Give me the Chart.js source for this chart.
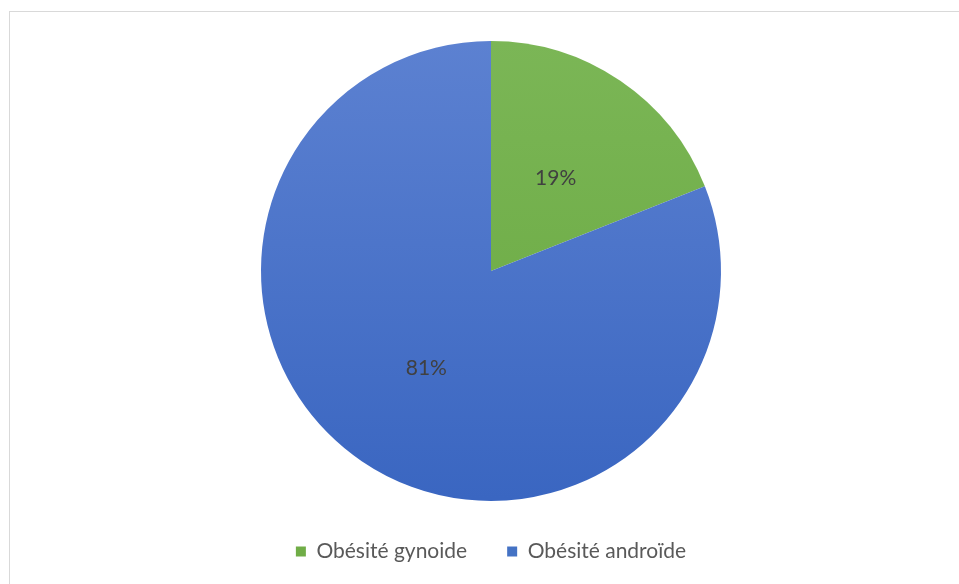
<!DOCTYPE html>
<html>
<head>
<meta charset="utf-8">
<script src="https://cdn.jsdelivr.net/npm/chart.js@4.4.0/dist/chart.umd.min.js"></script>
<style>
  html, body { margin: 0; padding: 0; background: #fff; }
  #wrap { position: relative; width: 959px; height: 584px; }
  #frame {
    position: absolute; left: 9px; top: 11px; width: 960px; height: 600px;
    border-left: 1px solid #d9d9d9; border-top: 1px solid #d9d9d9;
  }
  canvas { position: absolute; left: 0; top: 0; }
</style>
</head>
<body>
<div id="wrap">
  <div id="frame"></div>
  <canvas id="chart_1" width="959" height="584"></canvas>
</div>
<script>
const labels = ["Obésité gynoide", "Obésité androïde"];
const values = [19, 81];
const valueLabels = ["19%", "81%"];

const ctx1 = document.getElementById("chart_1").getContext("2d");

function createGradient(ctx, colors) {
  var gradient = ctx.createLinearGradient(0, 41, 0, 499);
  gradient.addColorStop(0, colors[0]);
  gradient.addColorStop(1, colors[1]);
  return gradient;
}

// draws the percent text in the middle of each slice
const sliceLabels = {
  id: "sliceLabels",
  afterDatasetsDraw(chart) {
    const c = chart.ctx;
    const meta = chart.getDatasetMeta(0);
    c.save();
    c.font = "21px Lato";
    c.fillStyle = "#404040";
    c.textAlign = "center";
    c.textBaseline = "middle";
    meta.data.forEach((arc, i) => {
      const p = arc.getCenterPoint();
      c.fillText(valueLabels[i], p.x, p.y + 2);
    });
    c.restore();
  },
};

var myChart1 = new Chart(ctx1, {
  type: "pie",
  data: {
    labels: labels,
    datasets: [
      {
        data: values,
        backgroundColor: [
          createGradient(ctx1, ["#7bb656", "#68a83f"]),
          createGradient(ctx1, ["#5c81d1", "#3a66c1"]),
        ],
        borderWidth: 0,
      },
    ],
  },
  options: {
    responsive: false,
    animation: false,
    layout: {
      padding: { top: 41, left: 23, right: 0, bottom: 12 },
    },
    plugins: {
      legend: {
        position: "bottom",
        labels: {
          boxWidth: 10,
          boxHeight: 10,
          padding: 40,
          color: "#595959",
          font: { family: "Lato", size: 21 },
          generateLabels(chart) {
            return labels.map((l, i) => ({
              text: l,
              fillStyle: ["#70ad47", "#4472c4"][i],
              strokeStyle: "transparent",
              lineWidth: 0,
              index: i,
              fontColor: "#595959",
            }));
          },
        },
      },
      tooltip: { enabled: false },
    },
  },
  plugins: [sliceLabels],
});
</script>
</body>
</html>
